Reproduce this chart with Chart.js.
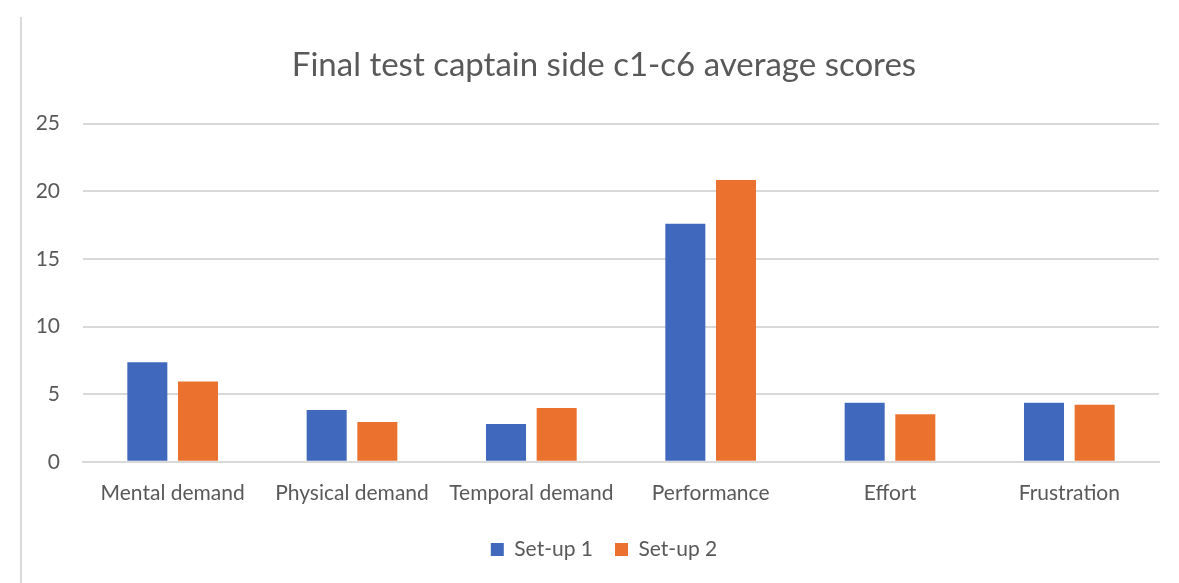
<!DOCTYPE html>
<html>
<head>
<meta charset="utf-8">
<script src="https://cdn.jsdelivr.net/npm/chart.js@4"></script>
<style>
  html, body { margin: 0; padding: 0; background: #fff; }
  #frame {
    position: absolute; left: 0; top: 0; width: 1179px; height: 583px;
  }
  #edge {
    position: absolute; left: 20px; top: 17px; width: 2px; height: 566px; background: #d9d9d9;
  }
</style>
</head>
<body>
<div id="frame">
  <div id="edge"></div>
  <canvas id="scoreChart" width="1179" height="583"></canvas>
</div>
<script>
// Workload categories and average scores per set-up
const categories = ['Mental demand', 'Physical demand', 'Temporal demand', 'Performance', 'Effort', 'Frustration'];
const setup1 = [7.35, 3.83, 2.8, 17.6, 4.37, 4.37];
const setup2 = [5.93, 2.95, 3.97, 20.83, 3.52, 4.22];
const yTicks = [0, 5, 10, 15, 20, 25];

const textColor = '#595959';
const gridColor = '#d9d9d9';
const fontFamily = "Lato, 'Open Sans', sans-serif";

const ctx = document.getElementById('scoreChart').getContext('2d');

const chart = new Chart(ctx, {
  type: 'bar',
  data: {
    labels: categories,
    datasets: [
      {
        label: 'Set-up 1',
        data: setup1,
        backgroundColor: '#4069be',
        categoryPercentage: 0.565,
        barPercentage: 0.79
      },
      {
        label: 'Set-up 2',
        data: setup2,
        backgroundColor: '#eb722e',
        categoryPercentage: 0.565,
        barPercentage: 0.79
      }
    ]
  },
  options: {
    responsive: false,
    animation: false,
    layout: {
      padding: { left: 35, right: 6, top: 20, bottom: 13 }
    },
    scales: {
      x: {
        grid: { display: false },
        border: { display: true, color: gridColor, width: 2 },
        ticks: {
          color: textColor,
          padding: 11,
          maxRotation: 0,
          font: { family: fontFamily, size: 21 }
        }
      },
      y: {
        min: 0,
        max: 25,
        afterFit: function(scale) { scale.width = 48; },
        afterBuildTicks: function(scale) {
          scale.ticks = yTicks.map(v => ({ value: v }));
        },
        border: { display: false },
        grid: { color: gridColor, lineWidth: 2, drawTicks: false },
        ticks: {
          color: textColor,
          padding: 23,
          font: { family: fontFamily, size: 21 }
        }
      },
      // empty spacer on the right so the plot ends short of the canvas edge
      spacer: {
        type: 'linear',
        position: 'right',
        display: true,
        afterFit: function(scale) { scale.width = 14; },
        grid: { display: false },
        border: { display: false },
        ticks: { display: false }
      }
    },
    plugins: {
      title: {
        display: true,
        text: 'Final test captain side c1-c6 average scores',
        color: textColor,
        font: { family: fontFamily, size: 33, weight: 'normal' },
        padding: { top: 26, bottom: 38 }
      },
      legend: {
        position: 'bottom',
        labels: {
          color: textColor,
          boxWidth: 13,
          boxHeight: 13,
          padding: 22,
          font: { family: fontFamily, size: 21 }
        }
      },
      tooltip: { enabled: false }
    }
  }
});
</script>
</body>
</html>
